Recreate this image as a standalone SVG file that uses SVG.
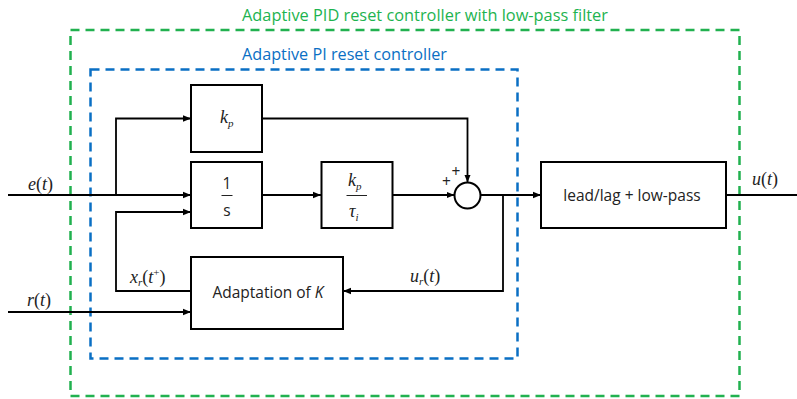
<svg xmlns="http://www.w3.org/2000/svg" width="797" height="399" viewBox="0 0 797 399">
<defs>
<marker id="arr" markerWidth="8" markerHeight="8" refX="8" refY="4" orient="auto" markerUnits="userSpaceOnUse">
<path d="M0,0.8 L8,4 L0,7.2 z" fill="#000"/>
</marker>
<style>
.box{fill:#fff;stroke:#000;stroke-width:2}
.con{fill:none;stroke:#000;stroke-width:1.8}
.ar{marker-end:url(#arr)}
.lbl{font-family:"Open Sans","Liberation Sans",sans-serif;font-size:15.5px;fill:#222}
.math{font-family:"Liberation Serif","Times New Roman",serif;font-size:18px;fill:#222}
.it{font-style:italic}
.sub{font-size:11px}
.title{font-family:"Open Sans","Liberation Sans",sans-serif;font-size:15.5px}
</style>
</defs>
<rect width="797" height="399" fill="#fff"/>
<g id="outer">
<rect x="70.5" y="30" width="669" height="366" fill="none" stroke="#21b14f" stroke-width="2.5" stroke-dasharray="9 6"/>
<text class="title" x="425" y="21" text-anchor="middle" fill="#1db34f" textLength="366" lengthAdjust="spacingAndGlyphs">Adaptive PID reset controller with low-pass filter</text>
</g>
<g id="inner">
<rect x="90.5" y="69.5" width="427" height="289" fill="none" stroke="#0a6fc4" stroke-width="2.5" stroke-dasharray="9 6"/>
<text class="title" x="344.5" y="60" text-anchor="middle" fill="#0a6fc4" textLength="205" lengthAdjust="spacingAndGlyphs">Adaptive PI reset controller</text>
</g>
<g id="connectors">
<path class="con ar" d="M8,195 H191"/>
<path class="con ar" d="M116,195 V118.5 H191"/>
<path class="con ar" d="M262,118.5 H467.5 V182.5"/>
<path class="con ar" d="M262,195 H321"/>
<path class="con ar" d="M392,195 H454.5"/>
<path class="con ar" d="M480.5,195 H541"/>
<path class="con ar" d="M503,195 V291 H343"/>
<path class="con ar" d="M191,291 H116 V212 H191"/>
<path class="con ar" d="M8,312 H191"/>
<path class="con" d="M726,195 H797"/>
</g>
<g id="kp">
<rect class="box" x="191" y="85" width="71" height="67"/>
<text class="math" x="220" y="123" font-size="19"><tspan class="it">k</tspan><tspan class="it sub" dy="4">p</tspan></text>
</g>
<g id="integrator">
<rect class="box" x="191" y="162" width="71" height="66"/>
<text class="lbl" x="227" y="189" text-anchor="middle" font-size="17">1</text>
<line x1="221.5" y1="195.5" x2="232.5" y2="195.5" stroke="#222" stroke-width="1"/>
<text class="lbl" x="227" y="216" text-anchor="middle" font-size="17">s</text>
</g>
<g id="kp_tau">
<rect class="box" x="321.5" y="162" width="71" height="66"/>
<text class="math" x="348" y="186"><tspan class="it">k</tspan><tspan class="it sub" dy="4">p</tspan></text>
<line x1="346.5" y1="195.5" x2="367" y2="195.5" stroke="#222" stroke-width="1"/>
<text class="math" x="349" y="217"><tspan class="it">τ</tspan><tspan class="it sub" dy="4">i</tspan></text>
</g>
<g id="sum">
<circle cx="467.5" cy="195.5" r="13" fill="#fff" stroke="#000" stroke-width="2"/>
<text class="lbl" x="446.5" y="187" text-anchor="middle" font-size="14">+</text>
<text class="lbl" x="456" y="177" text-anchor="middle" font-size="14">+</text>
</g>
<g id="leadlag">
<rect class="box" x="541" y="162" width="185" height="66"/>
<text class="lbl" x="632" y="201" text-anchor="middle">lead/lag + low-pass</text>
</g>
<g id="adaptation">
<rect class="box" x="191" y="257" width="152" height="72"/>
<text class="lbl" x="268" y="298" text-anchor="middle">Adaptation of <tspan font-style="italic">K</tspan></text>
</g>
<g id="labels">
<text class="math" x="28" y="190"><tspan class="it">e</tspan>(<tspan class="it">t</tspan>)</text>
<text class="math" x="27" y="306"><tspan class="it">r</tspan>(<tspan class="it">t</tspan>)</text>
<text class="math" x="752" y="185"><tspan class="it">u</tspan>(<tspan class="it">t</tspan>)</text>
<text class="math" x="410" y="282"><tspan class="it">u</tspan><tspan class="it sub" dy="3">r</tspan><tspan dy="-3">(</tspan><tspan class="it">t</tspan>)</text>
<text class="math" x="130" y="283"><tspan class="it">x</tspan><tspan class="it sub" dy="3">r</tspan><tspan dy="-3">(</tspan><tspan class="it">t</tspan><tspan class="sub" dy="-7">+</tspan><tspan dy="7">)</tspan></text>
</g>
</svg>
